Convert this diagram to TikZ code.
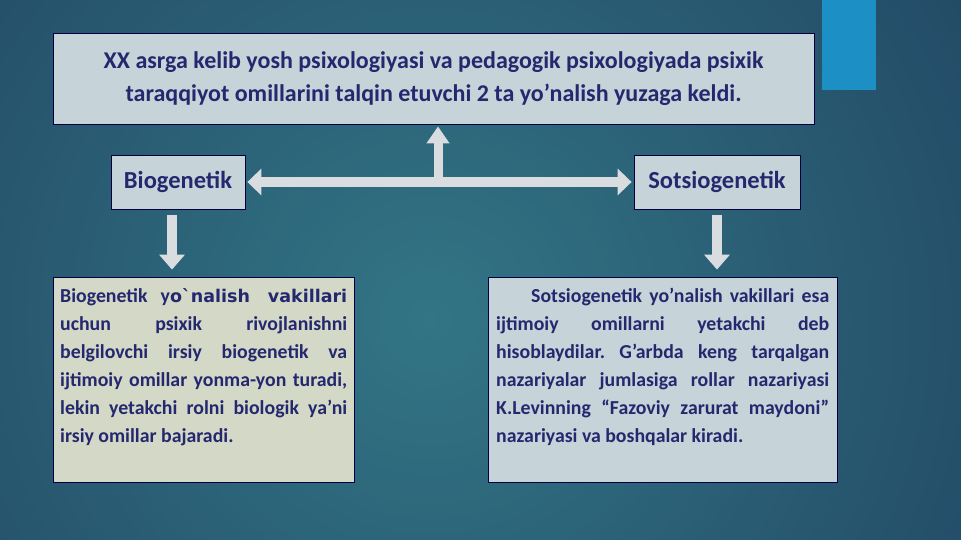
\documentclass[tikz,border=0pt]{standalone}
\usepackage{fontspec}
\setmainfont{Carlito}
\newfontfamily\widefont{DejaVu Sans}
\usepackage{tikz}
\usetikzlibrary{arrows.meta,calc,positioning}
\definecolor{bgin}{HTML}{327585}
\definecolor{bgout}{HTML}{1A3154}
\definecolor{ink}{HTML}{24286E}
\definecolor{boxfill}{HTML}{C6D3D8}
\definecolor{boxfillb}{HTML}{D4D8C6}
\definecolor{arrowfill}{HTML}{D9DDE0}
\definecolor{tabblue}{HTML}{1C8FC4}
\tikzset{
 box/.style={draw=black!75!blue, line width=0.8pt, fill=boxfill, text=ink, inner sep=0pt},
 blockarrow/.style={draw=arrowfill, line width=10pt},
 bodytext/.style={anchor=base west, inner sep=0pt, text=ink, font=\fontsize{19.8}{28}\selectfont\bfseries}
}

\begin{document}
\begin{tikzpicture}[x=1pt, y=-1pt]
\useasboundingbox (0,0) rectangle (961,540);
\clip (0,0) rectangle (961,540);
\fill[inner color=bgin, outer color=bgout] (-570,-680) rectangle (1430,1320);
\fill[tabblue] (822,0) rectangle (876,90);

\node[box, minimum width=761pt, minimum height=91pt, align=center,
      font=\fontsize{24}{33.5}\selectfont\bfseries] (top) at (433.5,78.5)
      {XX asrga kelib yosh psixologiyasi va pedagogik psixologiyada psixik\\
       taraqqiyot omillarini talqin etuvchi 2 ta yo’nalish yuzaga keldi.};
\node[box, minimum width=134pt, minimum height=54pt, font=\fontsize{24.5}{28}\selectfont\bfseries] (bio) at (178,182) {Biogenetik};
\node[box, minimum width=166pt, minimum height=54pt, font=\fontsize{24.5}{28}\selectfont\bfseries] (sots) at (717,182) {Sotsiogenetik};
\node[box, fill=boxfillb, minimum width=301pt, minimum height=205pt] (biobox) at (203.5,379.5) {};
\node[box, minimum width=349pt, minimum height=205pt] (sotsbox) at (662.5,379.5) {};

\node[bodytext] (biotext) at (60,302) {\parbox[t]{287pt}{\hyphenpenalty=10000\frenchspacing
 Biogenetik y{\widefont\fontsize{17.5}{28}\selectfont o\char"60 nalish vakillari}\linebreak
 uchun psixik rivojlanishni\linebreak
 belgilovchi irsiy biogenetik va\linebreak
 ijtimoiy omillar yonma-yon turadi,\linebreak
 lekin yetakchi rolni biologik ya’ni\linebreak
 irsiy omillar bajaradi.}};
\node[bodytext] (sotstext) at (496,302) {\parbox[t]{333pt}{\hyphenpenalty=10000\frenchspacing
 \hspace*{35pt}Sotsiogenetik yo’nalish vakillari esa\linebreak
 ijtimoiy omillarni yetakchi deb\linebreak
 hisoblaydilar. G’arbda keng tarqalgan\linebreak
 nazariyalar jumlasiga rollar nazariyasi\linebreak
 K.Levinning “Fazoviy zarurat maydoni”\linebreak
 nazariyasi va boshqalar kiradi.}};

\coordinate (fork) at (438,182);
\draw[blockarrow, {Triangle[length=14pt,width=26pt]}-{Triangle[length=14pt,width=26pt]}, shorten <=2pt, shorten >=2pt] (bio) -- (sots);
\draw[blockarrow, line width=9pt, -{Triangle[length=17pt,width=22pt]}, shorten >=2pt] (fork) -- (fork |- top.south);
\draw[blockarrow, -{Triangle[length=15pt,width=25pt]}, shorten <=6pt, shorten >=7pt] ([xshift=-6pt]bio.south) -- ([xshift=-6pt]bio.south |- biobox.north);
\draw[blockarrow, -{Triangle[length=15pt,width=25pt]}, shorten <=6pt, shorten >=7pt] (sots.south) -- (sots.south |- sotsbox.north);
\end{tikzpicture}
\end{document}
